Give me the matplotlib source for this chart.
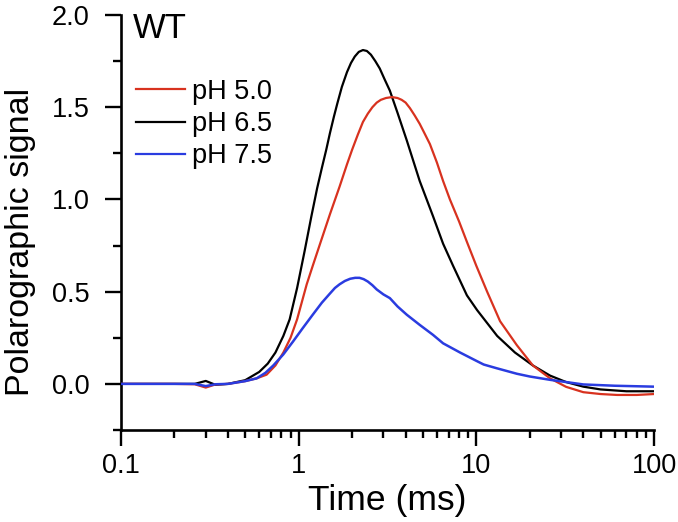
import matplotlib
matplotlib.use("Agg")
import matplotlib.pyplot as plt
from matplotlib.ticker import LogLocator, MultipleLocator, FuncFormatter

plt.rcParams['font.family'] = ['Liberation Sans', 'DejaVu Sans']

# ---- data ----
t_ph65 = [0.1, 0.2, 0.26, 0.3, 0.34, 0.4, 0.5, 0.6, 0.67, 0.74, 0.82, 0.89, 0.98, 1.08,
          1.18, 1.27, 1.35, 1.43, 1.5, 1.58, 1.65, 1.75, 1.87, 1.97, 2.07, 2.18, 2.3, 2.42,
          2.55, 2.7, 2.86, 3.05, 3.26, 3.6, 4.06, 4.8, 5.7, 6.5, 7.4, 8.85, 10.1, 13.1,
          16.5, 20.8, 26, 32, 40, 50, 70, 100]
s_ph65 = [0.0, 0.0, 0.0, 0.016, -0.005, 0.0, 0.02, 0.065, 0.11, 0.17, 0.26, 0.35, 0.52, 0.72,
          0.91, 1.06, 1.17, 1.27, 1.36, 1.45, 1.52, 1.61, 1.69, 1.74, 1.775, 1.80, 1.81, 1.805,
          1.785, 1.75, 1.71, 1.65, 1.59, 1.47, 1.32, 1.10, 0.91, 0.76, 0.64, 0.48, 0.40, 0.26,
          0.17, 0.10, 0.045, 0.01, -0.015, -0.03, -0.04, -0.04]

t_ph50 = [0.1, 0.2, 0.26, 0.3, 0.34, 0.4, 0.5, 0.58, 0.66, 0.74, 0.82, 0.9, 0.98, 1.11,
          1.2, 1.32, 1.5, 1.7, 1.87, 2.0, 2.15, 2.3, 2.45, 2.6, 2.75, 2.9, 3.1, 3.35,
          3.6, 3.8, 4.0, 4.23, 4.5, 4.8, 5.1, 5.48, 6.0, 6.5, 7.1, 8.0, 8.85, 10, 11.5,
          13.6, 16.9, 20.8, 26, 32, 40, 50, 62, 80, 100]
s_ph50 = [0.0, 0.0, -0.002, -0.02, -0.003, 0.0, 0.015, 0.03, 0.05, 0.10, 0.17, 0.25, 0.35, 0.54,
          0.64, 0.76, 0.92, 1.07, 1.19, 1.27, 1.35, 1.42, 1.465, 1.50, 1.525, 1.54, 1.55, 1.555,
          1.55, 1.54, 1.525, 1.495, 1.455, 1.41, 1.36, 1.30, 1.20, 1.10, 1.00, 0.88, 0.77, 0.64, 0.50,
          0.34, 0.21, 0.10, 0.03, -0.016, -0.045, -0.055, -0.06, -0.06, -0.055]

t_ph75 = [0.1, 0.2, 0.26, 0.3, 0.34, 0.4, 0.5, 0.58, 0.65, 0.72, 0.82, 0.93, 1.05, 1.2,
          1.35, 1.5, 1.6, 1.7, 1.82, 1.95, 2.08, 2.2, 2.32, 2.45, 2.6, 2.75, 3.0, 3.26,
          3.6, 4.06, 4.8, 5.7, 6.5, 8.1, 10, 11, 13, 16.9, 20, 26, 32, 40, 60, 100]
s_ph75 = [0.0, 0.0, 0.0, -0.012, -0.002, 0.0, 0.015, 0.03, 0.06, 0.10, 0.16, 0.23, 0.30, 0.375,
          0.44, 0.49, 0.52, 0.54, 0.558, 0.570, 0.575, 0.575, 0.568, 0.555, 0.535, 0.512, 0.485, 0.465,
          0.42, 0.375, 0.32, 0.266, 0.22, 0.17, 0.125, 0.105, 0.085, 0.055, 0.04, 0.022, 0.01, -0.003,
          -0.01, -0.015]

series_labels = ["pH 5.0", "pH 6.5", "pH 7.5"]
series_colors = ["#d8321f", "#000000", "#2a3ce0"]
x_ticks = [0.1, 1, 10, 100]
x_ticklabels = ["0.1", "1", "10", "100"]
y_ticks = [0.0, 0.5, 1.0, 1.5, 2.0]

fig = plt.figure(figsize=(6.78, 5.22), dpi=100)
ax = fig.add_axes([121/678, 1-430/522, (654-121)/678, (430-15)/522])

ax.plot(t_ph50, s_ph50, color=series_colors[0], lw=1.6, label=series_labels[0], zorder=3)
ax.plot(t_ph65, s_ph65, color=series_colors[1], lw=1.6, label=series_labels[1], zorder=2)
ax.plot(t_ph75, s_ph75, color=series_colors[2], lw=1.8, label=series_labels[2], zorder=4)

ax.set_xscale('log')
ax.set_xlim(0.1, 100)
ax.set_ylim(-0.25, 2.0)
ax.set_xticks(x_ticks)
ax.set_xticklabels(x_ticklabels)
ax.xaxis.set_minor_locator(LogLocator(base=10, subs=range(2, 10), numticks=20))
ax.xaxis.set_minor_formatter(plt.NullFormatter())
ax.set_yticks(y_ticks)
ax.yaxis.set_major_formatter(FuncFormatter(lambda v, p: f"{v:.1f}"))
ax.yaxis.set_minor_locator(MultipleLocator(0.25))

for s in ['top', 'right']:
    ax.spines[s].set_visible(False)
for s in ['left', 'bottom']:
    ax.spines[s].set_linewidth(1.9)

ax.tick_params(which='major', direction='out', length=11.5, width=1.7, labelsize=19.5, pad=5)
ax.tick_params(which='minor', direction='out', length=5.5, width=1.7)
ax.tick_params(axis='y', which='major', pad=11)

ax.set_xlabel("Time (ms)", fontsize=25.5, labelpad=4)
ax.set_ylabel("Polarographic signal", fontsize=24.5)
ax.yaxis.set_label_coords(-0.160, 0.453)

ax.text(0.0225, 0.9446, "WT", transform=ax.transAxes, fontsize=25, va='baseline', ha='left')

leg = ax.legend(loc='upper left', bbox_to_anchor=(0.028, 0.846), frameon=False, fontsize=19.5,
                handlelength=1.8, handletextpad=0.27, labelspacing=0.23, borderpad=0, borderaxespad=0)
for h in leg.get_lines():
    h.set_linewidth(1.6)

fig.savefig("out.png", dpi=100)
